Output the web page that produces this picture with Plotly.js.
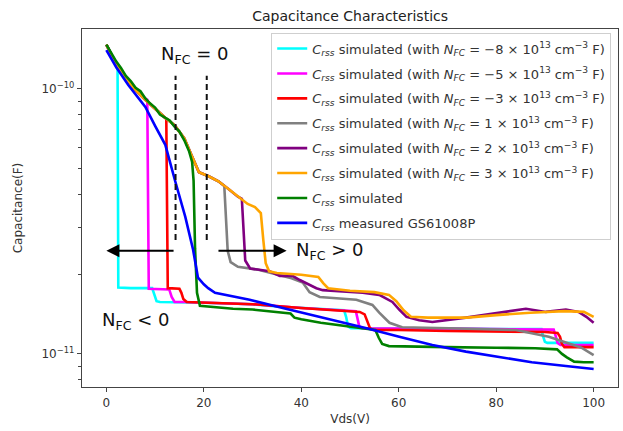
<!DOCTYPE html>
<html>
<head>
<meta charset="utf-8">
<script src="https://cdn.plot.ly/plotly-3.0.1.min.js"></script>
<style>html,body{margin:0;padding:0;background:#fff;}#chart{width:623px;height:431px;}</style>
</head>
<body>
<div id="chart"></div>
<script>
// ---- data (Vds in V, capacitance in F) ----
const cyanV = [0, 1, 2, 2.3, 2.45, 5, 9.4, 9.8, 10.3, 11, 16, 20, 25, 30, 35, 40, 45, 48.8, 49.2, 49.6, 50.2, 55, 60, 70, 80, 89.3, 89.6, 90, 90.5, 95, 100];
const cyanC = [1.47e-10, 1.36e-10, 1.22e-10, 1.18e-10, 1.78e-11, 1.77e-11, 1.77e-11, 1.68e-11, 1.58e-11, 1.57e-11, 1.57e-11, 1.56e-11, 1.55e-11, 1.54e-11, 1.51e-11, 1.49e-11, 1.47e-11, 1.46e-11, 1.38e-11, 1.27e-11, 1.25e-11, 1.25e-11, 1.25e-11, 1.245e-11, 1.24e-11, 1.24e-11, 1.17e-11, 1.11e-11, 1.10e-11, 1.10e-11, 1.10e-11];

const magV = [0, 2, 4, 6, 8, 8.4, 8.7, 12.9, 13.4, 14, 16, 20, 30, 40, 48, 51.2, 51.5, 51.9, 52.5, 60, 70, 80, 91.8, 92.2, 92.6, 93.2, 100];
const magC = [1.47e-10, 1.24e-10, 1.09e-10, 9.9e-11, 9.2e-11, 9.1e-11, 1.76e-11, 1.75e-11, 1.64e-11, 1.57e-11, 1.57e-11, 1.56e-11, 1.54e-11, 1.49e-11, 1.46e-11, 1.45e-11, 1.37e-11, 1.27e-11, 1.25e-11, 1.25e-11, 1.245e-11, 1.24e-11, 1.235e-11, 1.17e-11, 1.10e-11, 1.08e-11, 1.08e-11];

const redV = [0, 2, 4, 6, 8, 10, 12, 12.3, 12.6, 15, 15.4, 15.8, 16.5, 20, 30, 40, 48, 52, 53, 53.6, 54.1, 54.8, 60, 70, 80, 90, 92.6, 93.1, 93.5, 94, 100];
const redC = [1.47e-10, 1.24e-10, 1.09e-10, 9.9e-11, 9.1e-11, 8.4e-11, 7.8e-11, 7.7e-11, 1.77e-11, 1.76e-11, 1.70e-11, 1.61e-11, 1.57e-11, 1.56e-11, 1.54e-11, 1.49e-11, 1.46e-11, 1.44e-11, 1.41e-11, 1.33e-11, 1.25e-11, 1.23e-11, 1.23e-11, 1.22e-11, 1.215e-11, 1.21e-11, 1.20e-11, 1.16e-11, 1.09e-11, 1.06e-11, 1.06e-11];

const grayV = [0, 2, 4, 6, 8, 10, 12, 14, 16, 17.5, 19, 21, 23, 24.2, 24.5, 24.9, 25.5, 27, 31, 35.6, 38, 40.3, 41, 41.7, 43.8, 51.3, 54.6, 56, 58.1, 60.7, 70.3, 84, 90.8, 97.5, 100];
const grayC = [1.47e-10, 1.24e-10, 1.09e-10, 9.9e-11, 9.1e-11, 8.4e-11, 7.8e-11, 7.3e-11, 6.5e-11, 5.6e-11, 4.85e-11, 4.68e-11, 4.48e-11, 4.3e-11, 3.3e-11, 2.45e-11, 2.22e-11, 2.13e-11, 2.08e-11, 1.98e-11, 1.93e-11, 1.86e-11, 1.78e-11, 1.71e-11, 1.64e-11, 1.60e-11, 1.53e-11, 1.43e-11, 1.31e-11, 1.26e-11, 1.25e-11, 1.23e-11, 1.16e-11, 1.055e-11, 9.9e-12];

const purV = [0, 2, 4, 6, 8, 10, 12, 14, 16, 17.5, 19, 21, 23, 25, 27, 27.8, 28.1, 28.5, 29.5, 33.5, 35.6, 38.2, 39.7, 43.1, 44.4, 52.6, 56, 58.7, 60.1, 61.6, 64.2, 66.9, 73.8, 80.6, 86.1, 90.2, 94.3, 96.9, 98.5, 100];
const purC = [1.47e-10, 1.24e-10, 1.09e-10, 9.9e-11, 9.1e-11, 8.4e-11, 7.8e-11, 7.3e-11, 6.5e-11, 5.6e-11, 4.85e-11, 4.68e-11, 4.48e-11, 4.2e-11, 3.92e-11, 3.85e-11, 3.0e-11, 2.25e-11, 2.1e-11, 2.05e-11, 1.97e-11, 1.97e-11, 1.90e-11, 1.77e-11, 1.74e-11, 1.70e-11, 1.67e-11, 1.57e-11, 1.47e-11, 1.38e-11, 1.34e-11, 1.32e-11, 1.37e-11, 1.43e-11, 1.48e-11, 1.44e-11, 1.47e-11, 1.44e-11, 1.38e-11, 1.31e-11];

const orV = [0, 2, 4, 6, 8, 10, 12, 14, 16, 17.5, 19, 21, 23, 25, 27, 29, 30.5, 31.7, 32.2, 32.7, 33.4, 35, 40, 43.5, 44.5, 45.5, 50, 55, 58, 59.5, 61, 62.5, 66, 74, 80, 87, 94, 98, 100];
const orC = [1.47e-10, 1.24e-10, 1.09e-10, 9.9e-11, 9.1e-11, 8.4e-11, 7.8e-11, 7.3e-11, 6.5e-11, 5.6e-11, 4.85e-11, 4.68e-11, 4.48e-11, 4.2e-11, 3.92e-11, 3.68e-11, 3.58e-11, 3.4e-11, 2.7e-11, 2.2e-11, 2.05e-11, 2.02e-11, 1.99e-11, 1.95e-11, 1.85e-11, 1.77e-11, 1.73e-11, 1.71e-11, 1.67e-11, 1.58e-11, 1.46e-11, 1.38e-11, 1.37e-11, 1.37e-11, 1.40e-11, 1.43e-11, 1.45e-11, 1.44e-11, 1.38e-11];

const greenV = [0, 1, 2, 3, 4, 5, 6, 7, 8, 9, 10, 11, 12, 13, 14, 15, 16, 17, 17.6, 17.9, 18.2, 18.6, 19.2, 22, 26, 30, 35, 37.8, 38.6, 40, 44, 48, 52, 55.2, 55.9, 56.6, 58, 62, 70, 80, 88, 92.5, 93.5, 94.5, 96, 98, 100];
const greenC = [1.47e-10, 1.37e-10, 1.27e-10, 1.20e-10, 1.12e-10, 1.07e-10, 1.01e-10, 9.8e-11, 9.2e-11, 8.8e-11, 8.5e-11, 8.0e-11, 7.8e-11, 7.6e-11, 7.2e-11, 6.9e-11, 6.4e-11, 5.8e-11, 5.3e-11, 4.5e-11, 2.5e-11, 1.7e-11, 1.52e-11, 1.50e-11, 1.48e-11, 1.47e-11, 1.44e-11, 1.42e-11, 1.37e-11, 1.35e-11, 1.31e-11, 1.28e-11, 1.25e-11, 1.23e-11, 1.15e-11, 1.09e-11, 1.07e-11, 1.065e-11, 1.06e-11, 1.055e-11, 1.05e-11, 1.04e-11, 1.0e-11, 9.7e-12, 9.35e-12, 9.3e-12, 9.3e-12];

const blueV = [0, 2, 4.5, 8, 10, 12.1, 14.1, 16.2, 17.8, 18.8, 20, 20.9, 22.3, 25, 29.4, 36.2, 43.8, 46.4, 53.4, 60.1, 66.9, 73.8, 80.6, 87.3, 94.3, 100];
const blueC = [1.40e-10, 1.21e-10, 1.035e-10, 8.55e-11, 7.25e-11, 6.15e-11, 4.5e-11, 3.29e-11, 2.47e-11, 1.94e-11, 1.83e-11, 1.77e-11, 1.70e-11, 1.66e-11, 1.60e-11, 1.49e-11, 1.38e-11, 1.34e-11, 1.25e-11, 1.16e-11, 1.08e-11, 1.02e-11, 9.75e-12, 9.3e-12, 9.0e-12, 8.77e-12];

const crss = '<i>C</i><sub><i>rss</i></sub>';
const nfc = '<i>N</i><sub><i>FC</i></sub>';
const seriesNames = [
  crss + ' simulated (with ' + nfc + ' = −8 × 10<sup>13</sup> cm<sup>−3</sup> F)',
  crss + ' simulated (with ' + nfc + ' = −5 × 10<sup>13</sup> cm<sup>−3</sup> F)',
  crss + ' simulated (with ' + nfc + ' = −3 × 10<sup>13</sup> cm<sup>−3</sup> F)',
  crss + ' simulated (with ' + nfc + ' = 1 × 10<sup>13</sup> cm<sup>−3</sup> F)',
  crss + ' simulated (with ' + nfc + ' = 2 × 10<sup>13</sup> cm<sup>−3</sup> F)',
  crss + ' simulated (with ' + nfc + ' = 3 × 10<sup>13</sup> cm<sup>−3</sup> F)',
  crss + ' simulated',
  crss + ' measured GS61008P'
];
const seriesColors = ['#00ffff', '#ff00ff', '#ff0000', '#808080', '#800080', '#ffa500', '#008000', '#0000ff'];
const seriesX = [cyanV, magV, redV, grayV, purV, orV, greenV, blueV];
const seriesY = [cyanC, magC, redC, grayC, purC, orC, greenC, blueC];

const yTickVals = [1e-11, 1e-10];
const yTickText = ['10<sup>−11</sup>', '10<sup>−10</sup>'];
const yMinorVals = [8e-12, 9e-12, 2e-11, 3e-11, 4e-11, 5e-11, 6e-11, 7e-11, 8e-11, 9e-11];
const xTickVals = [0, 20, 40, 60, 80, 100];

// annotation markers (dashed boundaries, arrows)
const dashX = [14.2, 20.6];
const dashY = [2.69e-11, 1.12e-10];
const arrowY = 2.45e-11;

const traces = seriesX.map((xs, i) => ({
  x: xs, y: seriesY[i], type: 'scatter', mode: 'lines',
  name: seriesNames[i], legendgroup: 'g' + i,
  line: {color: seriesColors[i], width: 2.6}
}));
dashX.forEach(v => traces.push({
  x: [v, v], y: dashY, type: 'scatter', mode: 'lines', showlegend: false, hoverinfo: 'skip',
  line: {color: '#111', width: 2, dash: '6px,4px'}
}));

const L = Math.log10;
const layout = {
  width: 623, height: 431,
  margin: {l: 82, r: 5, t: 29, b: 44},
  paper_bgcolor: '#fff', plot_bgcolor: '#fff',
  font: {family: 'DejaVu Sans', size: 12, color: '#333'},
  title: {text: 'Capacitance Characteristics', font: {size: 14, color: '#222'}, x: 0.562, xanchor: 'center', y: 0.962, yanchor: 'middle'},
  showlegend: true,
  legend: {x: 0.353, y: 0.99, xanchor: 'left', yanchor: 'top', bgcolor: '#fff', bordercolor: '#cfcfcf', borderwidth: 1,
           font: {size: 13, color: '#333'}, tracegroupgap: 5, itemwidth: 30},
  xaxis: {range: [-5, 105], tickvals: xTickVals, ticks: 'outside', ticklen: 4, tickcolor: '#444',
          showline: true, mirror: true, linecolor: '#444', linewidth: 1.2, showgrid: false, zeroline: false,
          title: {text: 'Vds(V)', font: {size: 12, color: '#333'}, standoff: 6}},
  yaxis: {type: 'log', range: [-11.125, -9.774], tickvals: yTickVals, ticktext: yTickText,
          ticks: 'outside', ticklen: 4, tickcolor: '#444',
          minor: {tickvals: yMinorVals, ticks: 'outside', ticklen: 2.5, tickcolor: '#444', showgrid: false},
          showline: true, mirror: true, linecolor: '#444', linewidth: 1.2, showgrid: false, zeroline: false,
          title: {text: 'Capacitance(F)', font: {size: 12, color: '#333'}, standoff: 16}},
  annotations: [
    {x: 0, y: L(arrowY), ax: 14.1, ay: L(arrowY), xref: 'x', yref: 'y', axref: 'x', ayref: 'y', text: '',
     showarrow: true, arrowhead: 2, arrowsize: 1.3, arrowwidth: 2, arrowcolor: '#000', standoff: 0, startstandoff: 0},
    {x: 37, y: L(arrowY), ax: 22.7, ay: L(arrowY), xref: 'x', yref: 'y', axref: 'x', ayref: 'y', text: '',
     showarrow: true, arrowhead: 2, arrowsize: 1.3, arrowwidth: 2, arrowcolor: '#000', standoff: 0, startstandoff: 0},
    {x: 18.2, y: -9.872, xref: 'x', yref: 'y', text: 'N<sub>FC</sub> = 0', showarrow: false,
     font: {size: 18, color: '#111'}, xanchor: 'center', yanchor: 'middle'},
    {x: 38.6, y: -10.611, xref: 'x', yref: 'y', text: 'N<sub>FC</sub> > 0', showarrow: false,
     font: {size: 18, color: '#111'}, xanchor: 'left', yanchor: 'middle'},
    {x: -1.3, y: -10.875, xref: 'x', yref: 'y', text: 'N<sub>FC</sub> < 0', showarrow: false,
     font: {size: 18, color: '#111'}, xanchor: 'left', yanchor: 'middle'}
  ]
};

Plotly.newPlot('chart', traces, layout, {displayModeBar: false, staticPlot: true});
</script>
</body>
</html>
